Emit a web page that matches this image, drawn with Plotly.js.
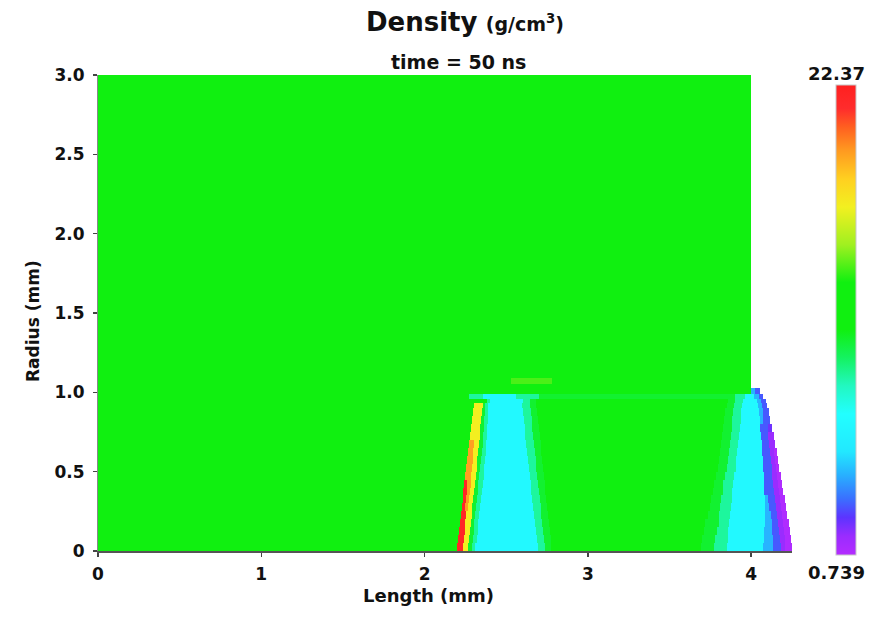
<!DOCTYPE html>
<html>
<head>
<meta charset="utf-8">
<script src="https://cdn.plot.ly/plotly-3.0.1.min.js"></script>
<style>html,body{margin:0;padding:0;background:#fff;}#chart{width:892px;height:620px;}</style>
</head>
<body>
<div id="chart"></div>
<script>
// ---- Data ----
// Radius bands (mm): lower/upper edges of each horizontal band of the density map
const rowY = [0, 0.05, 0.1, 0.15, 0.2, 0.25, 0.3, 0.35, 0.4, 0.45, 0.5, 0.55, 0.6, 0.65, 0.7, 0.75, 0.8, 0.85, 0.9, 0.93, 0.96, 0.99, 1.03, 1.05, 1.09, 3.0];

// Length (mm) cell edges along each band
const rowBreaks = [
  [0, 2.198, 2.235, 2.268, 2.29, 2.31, 2.692, 2.737, 2.777, 3.69, 3.77, 3.85, 4.075, 4.135, 4.18, 4.21, 4.248],
  [0, 2.204, 2.240, 2.273, 2.295, 2.318, 2.687, 2.732, 2.772, 3.70, 3.78, 3.855, 4.078, 4.135, 4.175, 4.205, 4.243],
  [0, 2.21, 2.245, 2.278, 2.30, 2.325, 2.681, 2.726, 2.766, 3.71, 3.79, 3.86, 4.08, 4.13, 4.17, 4.20, 4.237],
  [0, 2.215, 2.25, 2.283, 2.305, 2.33, 2.676, 2.72, 2.76, 3.72, 3.80, 3.865, 4.082, 4.125, 4.165, 4.195, 4.23],
  [0, 2.221, 2.255, 2.288, 2.31, 2.335, 2.67, 2.715, 2.755, 3.735, 3.805, 3.87, 4.083, 4.12, 4.16, 4.19, 4.222],
  [0, 2.227, 2.25, 2.268, 2.293, 2.315, 2.34, 2.665, 2.71, 2.75, 3.745, 3.81, 3.875, 4.083, 4.11, 4.155, 4.185, 4.213],
  [0, 2.233, 2.255, 2.273, 2.298, 2.32, 2.345, 2.66, 2.705, 2.745, 3.755, 3.815, 3.88, 4.082, 4.10, 4.148, 4.178, 4.205],
  [0, 2.238, 2.26, 2.278, 2.303, 2.325, 2.352, 2.654, 2.70, 2.74, 3.765, 3.825, 3.885, 4.08, 4.14, 4.17, 4.197],
  [0, 2.244, 2.262, 2.283, 2.308, 2.33, 2.357, 2.649, 2.695, 2.735, 3.775, 3.83, 3.89, 4.079, 4.135, 4.163, 4.188],
  [0, 2.25, 2.285, 2.313, 2.335, 2.362, 2.643, 2.69, 2.73, 3.785, 3.84, 3.895, 4.077, 4.13, 4.158, 4.18],
  [0, 2.256, 2.29, 2.318, 2.34, 2.366, 2.637, 2.685, 2.725, 3.795, 3.85, 3.905, 4.074, 4.125, 4.152, 4.172],
  [0, 2.262, 2.295, 2.323, 2.345, 2.37, 2.632, 2.68, 2.72, 3.805, 3.86, 3.91, 4.072, 4.12, 4.146, 4.165],
  [0, 2.268, 2.298, 2.328, 2.35, 2.373, 2.627, 2.675, 2.715, 3.812, 3.865, 3.915, 4.068, 4.115, 4.14, 4.157],
  [0, 2.274, 2.30, 2.333, 2.355, 2.376, 2.622, 2.67, 2.71, 3.818, 3.87, 3.92, 4.064, 4.11, 4.148],
  [0, 2.28, 2.338, 2.36, 2.38, 2.617, 2.665, 2.705, 3.824, 3.875, 3.925, 4.06, 4.105, 4.138],
  [0, 2.286, 2.342, 2.363, 2.383, 2.612, 2.66, 2.70, 3.83, 3.88, 3.93, 4.056, 4.10, 4.128],
  [0, 2.291, 2.347, 2.366, 2.386, 2.607, 2.655, 2.695, 3.836, 3.885, 3.935, 4.052, 4.075, 4.118],
  [0, 2.296, 2.352, 2.37, 2.389, 2.602, 2.65, 2.69, 3.842, 3.89, 3.94, 4.045, 4.07, 4.108],
  [0, 2.30, 2.355, 2.372, 2.39, 2.598, 2.645, 2.685, 3.85, 3.895, 3.945, 4.04, 4.065, 4.098],
  [0, 2.38, 2.40, 2.60, 2.645, 2.68, 3.86, 3.90, 3.95, 4.035, 4.06, 4.09],
  [0, 2.27, 2.36, 2.56, 2.70, 3.90, 3.96, 4.02, 4.05, 4.075],
  [0, 4.0, 4.025, 4.055],
  [0, 4.0],
  [0, 2.53, 2.78, 4.0],
  [0, 4.0]
];

// Density (g/cm^3) of each cell
const rowValues = [
  [12, 21.8, 16.8, 10.6, 9.0, 6.8, 9.0, 10.6, 12, 10.6, 9.0, 6.8, 4.5, 3.0, 1.6, 0.9],
  [12, 21.8, 16.8, 10.6, 9.0, 6.8, 9.0, 10.6, 12, 10.6, 9.0, 6.8, 4.5, 3.0, 1.6, 0.9],
  [12, 21.8, 16.8, 10.6, 9.0, 6.8, 9.0, 10.6, 12, 10.6, 9.0, 6.8, 4.5, 3.0, 1.6, 0.9],
  [12, 21.8, 16.8, 10.6, 9.0, 6.8, 9.0, 10.6, 12, 10.6, 9.0, 6.8, 4.5, 3.0, 1.6, 0.9],
  [12, 21.8, 16.8, 10.6, 9.0, 6.8, 9.0, 10.6, 12, 10.6, 9.0, 6.8, 4.5, 3.0, 1.6, 0.9],
  [12, 21.8, 19.2, 16.8, 10.6, 9.0, 6.8, 9.0, 10.6, 12, 10.6, 9.0, 6.8, 4.5, 3.0, 1.6, 0.9],
  [12, 21.8, 19.2, 16.8, 10.6, 9.0, 6.8, 9.0, 10.6, 12, 10.6, 9.0, 6.8, 4.5, 3.0, 1.6, 0.9],
  [12, 21.8, 19.2, 16.8, 10.6, 9.0, 6.8, 9.0, 10.6, 12, 10.6, 9.0, 6.8, 3.0, 1.6, 0.9],
  [12, 21.8, 19.2, 16.8, 10.6, 9.0, 6.8, 9.0, 10.6, 12, 10.6, 9.0, 6.8, 3.0, 1.6, 0.9],
  [12, 19.2, 16.8, 10.6, 9.0, 6.8, 9.0, 10.6, 12, 10.6, 9.0, 6.8, 3.0, 1.6, 0.9],
  [12, 19.2, 16.8, 10.6, 9.0, 6.8, 9.0, 10.6, 12, 10.6, 9.0, 6.8, 3.0, 1.6, 0.9],
  [12, 19.2, 16.8, 10.6, 9.0, 6.8, 9.0, 10.6, 12, 10.6, 9.0, 6.8, 3.0, 1.6, 0.9],
  [12, 19.2, 16.8, 10.6, 9.0, 6.8, 9.0, 10.6, 12, 10.6, 9.0, 6.8, 3.0, 1.6, 0.9],
  [12, 19.2, 16.8, 10.6, 9.0, 6.8, 9.0, 10.6, 12, 10.6, 9.0, 6.8, 3.0, 1.6],
  [12, 16.8, 10.6, 9.0, 6.8, 9.0, 10.6, 12, 10.6, 9.0, 6.8, 3.0, 1.6],
  [12, 16.8, 10.6, 9.0, 6.8, 9.0, 10.6, 12, 10.6, 9.0, 6.8, 3.0, 2.2],
  [12, 16.8, 10.6, 9.0, 6.8, 9.0, 10.6, 12, 10.6, 9.0, 6.8, 4.5, 3.0],
  [12, 16.8, 10.6, 9.0, 6.8, 9.0, 10.6, 12, 10.6, 9.0, 6.8, 4.5, 3.0],
  [12, 16.8, 10.6, 9.0, 6.8, 9.0, 10.6, 12, 10.6, 9.0, 6.8, 4.5, 3.0],
  [12, 9.0, 6.8, 9.0, 10.6, 12, 10.6, 9.0, 6.8, 4.5, 3.0],
  [12, 9.0, 6.8, 9.0, 10.6, 9.0, 6.8, 4.5, 3.0],
  [12, 4.5, 3.0],
  [12],
  [12, 14.0, 12],
  [12]
];

const zMin = 0.739;
const zMax = 22.37;
const colorbarLabels = ['22.37', '0.739'];

const xTickVals = [0, 1, 2, 3, 4];
const xTickText = ['0', '1', '2', '3', '4'];
const yTickVals = [0, 0.5, 1.0, 1.5, 2.0, 2.5, 3.0];
const yTickText = ['0', '0.5', '1.0', '1.5', '2.0', '2.5', '3.0'];

// ---- Build one heatmap table from the band descriptions ----
const xsSet = new Set();
rowBreaks.forEach(r => r.forEach(v => xsSet.add(v)));
const xEdges = Array.from(xsSet).sort((a, b) => a - b);
const zTable = rowBreaks.map((br, i) => {
  const vals = rowValues[i];
  const out = [];
  for (let j = 0; j < xEdges.length - 1; j++) {
    const mid = (xEdges[j] + xEdges[j + 1]) / 2;
    let v = null;
    for (let k = 0; k < vals.length; k++) {
      if (mid >= br[k] && mid < br[k + 1]) { v = vals[k]; break; }
    }
    out.push(v);
  }
  return out;
});

const FONT = 'DejaVu Sans, Verdana, sans-serif';

const colorscale = [
  [0.00, '#b42cff'], [0.04, '#9a2cff'], [0.08, '#5c34ff'], [0.12, '#3a70ff'],
  [0.17, '#28b0ff'], [0.22, '#22e8ff'], [0.30, '#22ffff'], [0.36, '#22f8c0'],
  [0.42, '#14f260'], [0.48, '#10f010'], [0.58, '#10f010'], [0.66, '#a0f020'],
  [0.74, '#f2f020'], [0.80, '#ffd020'], [0.86, '#ff9a20'], [0.91, '#ff6020'],
  [0.95, '#ff2c2c'], [1.00, '#ff2020']
];

const traces = [{
  type: 'heatmap',
  x: xEdges,
  y: rowY,
  z: zTable,
  coloraxis: 'coloraxis',
  hoverinfo: 'skip',
  zsmooth: false
}];

const L = 98, R = 792, T = 75, B = 551;
const W = R - L, H = B - T;
const px = v => (v - L) / W;
const py = v => (B - v) / H;

const layout = {
  width: 892, height: 620,
  margin: {l: L, r: 892 - R, t: T, b: 620 - B, pad: 0},
  paper_bgcolor: '#ffffff',
  plot_bgcolor: '#ffffff',
  showlegend: false,
  font: {family: FONT, color: '#111'},
  xaxis: {
    range: [0, 4.25], tickvals: xTickVals, ticktext: xTickText,
    ticks: 'outside', ticklen: 4, tickwidth: 1.5, tickcolor: '#444',
    showline: true, linecolor: '#555', linewidth: 2,
    showgrid: false, zeroline: false, ticklabelstandoff: 3,
    tickfont: {family: FONT, size: 17, weight: 'bold', color: '#111'}
  },
  yaxis: {
    range: [0, 3], tickvals: yTickVals, ticktext: yTickText,
    ticks: 'outside', ticklen: 4, tickwidth: 1.5, tickcolor: '#444',
    showline: true, linecolor: '#888', linewidth: 1,
    showgrid: false, zeroline: false, ticklabelstandoff: 5,
    tickfont: {family: FONT, size: 17, weight: 'bold', color: '#111'}
  },
  coloraxis: {
    cmin: zMin, cmax: zMax, colorscale: colorscale,
    colorbar: {
      x: px(836), xanchor: 'left', xpad: 0, ypad: 0,
      y: py(555), yanchor: 'bottom', len: (555 - 85) / H, lenmode: 'fraction',
      thickness: 20, thicknessmode: 'pixels',
      showticklabels: false, ticks: '',
      outlinewidth: 1, outlinecolor: '#c8c8c8'
    }
  },
  annotations: [
    {xref: 'paper', yref: 'paper', x: px(465), y: py(22), xanchor: 'center', yanchor: 'middle', showarrow: false,
     text: '<b>Density</b> <b><span style="font-size:19px">(g/cm<sup>3</sup>)</span></b>', font: {family: FONT, size: 26, color: '#111'}},
    {xref: 'paper', yref: 'paper', x: px(458), y: py(62), xanchor: 'center', yanchor: 'middle', showarrow: false,
     text: '<b>time = 50 ns</b>', font: {family: FONT, size: 19, color: '#111'}},
    {xref: 'paper', yref: 'paper', x: px(428), y: py(595), xanchor: 'center', yanchor: 'middle', showarrow: false,
     text: '<b>Length (mm)</b>', font: {family: FONT, size: 18, color: '#111'}},
    {xref: 'paper', yref: 'paper', x: px(33), y: py(321), xanchor: 'center', yanchor: 'middle', showarrow: false, textangle: -90,
     text: '<b>Radius (mm)</b>', font: {family: FONT, size: 17, color: '#111'}},
    {xref: 'paper', yref: 'paper', x: px(836), y: py(73), xanchor: 'center', yanchor: 'middle', showarrow: false,
     text: '<b>' + colorbarLabels[0] + '</b>', font: {family: FONT, size: 18, color: '#111'}},
    {xref: 'paper', yref: 'paper', x: px(836), y: py(572), xanchor: 'center', yanchor: 'middle', showarrow: false,
     text: '<b>' + colorbarLabels[1] + '</b>', font: {family: FONT, size: 18, color: '#111'}}
  ]
};

Plotly.newPlot('chart', traces, layout, {staticPlot: true, displayModeBar: false});
</script>
</body>
</html>
